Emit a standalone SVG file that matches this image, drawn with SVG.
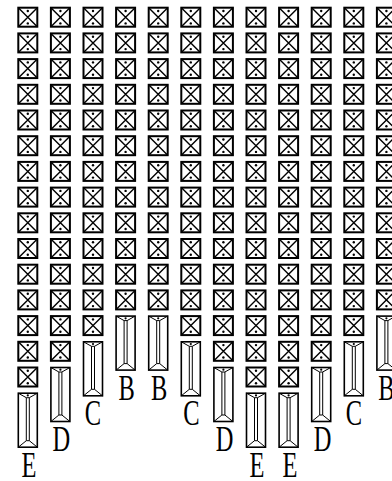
<svg xmlns="http://www.w3.org/2000/svg" xmlns:xlink="http://www.w3.org/1999/xlink" width="392" height="481" viewBox="0 0 392 481">
<style>
.o{fill:none;stroke:#000;stroke-width:2}
.d{fill:none;stroke:#000;stroke-width:1.4}
.t{fill:none;stroke:#000;stroke-width:1.6}
.i{fill:none;stroke:#000;stroke-width:1}
.dot{fill:#000}
.lbl{font-family:"Liberation Serif","Times New Roman",serif;font-size:35px;fill:#000;text-anchor:middle}
</style>
<defs>
<g id="box">
<rect class="o" x="1" y="1" width="19" height="19"/>
<path class="d" d="M1 1L20 20M20 1L1 20"/>
<circle class="dot" cx="10.5" cy="4.3" r="1.2"/>
<circle class="dot" cx="10.5" cy="16.7" r="1.2"/>
</g>
<g id="tall">
<rect class="t" x="1" y="1" width="19" height="54"/>
<path class="i" d="M1 1L9 5.5H12L20 1M9 5.5V48.5M12 5.5V48.5M1 55L9 48.5H12L20 55"/>
<circle class="dot" cx="10.5" cy="3.2" r="1.1"/>
</g>
<g id="c12">
<use xlink:href="#box" y="6.7"/>
<use xlink:href="#box" y="32.4"/>
<use xlink:href="#box" y="58.1"/>
<use xlink:href="#box" y="83.8"/>
<use xlink:href="#box" y="109.5"/>
<use xlink:href="#box" y="135.2"/>
<use xlink:href="#box" y="160.9"/>
<use xlink:href="#box" y="186.6"/>
<use xlink:href="#box" y="212.3"/>
<use xlink:href="#box" y="238"/>
<use xlink:href="#box" y="263.7"/>
<use xlink:href="#box" y="289.4"/>
</g>
</defs>
<g id="col1" transform="translate(17.3,0)">
<use xlink:href="#c12"/>
<use xlink:href="#box" y="315.1"/><use xlink:href="#box" y="340.8"/><use xlink:href="#box" y="366.5"/>
<use xlink:href="#tall" y="392.2"/>
<text class="lbl" transform="translate(11.8,476.7) scale(0.7,1)">E</text>
</g>
<g id="col2" transform="translate(49.9,0)">
<use xlink:href="#c12"/>
<use xlink:href="#box" y="315.1"/><use xlink:href="#box" y="340.8"/>
<use xlink:href="#tall" y="366.5"/>
<text class="lbl" transform="translate(11.5,451) scale(0.7,1)">D</text>
</g>
<g id="col3" transform="translate(82.5,0)">
<use xlink:href="#c12"/>
<use xlink:href="#box" y="315.1"/>
<use xlink:href="#tall" y="340.8"/>
<text class="lbl" transform="translate(10.5,425.3) scale(0.7,1)">C</text>
</g>
<g id="col4" transform="translate(115.1,0)">
<use xlink:href="#c12"/>
<use xlink:href="#tall" y="315.1"/>
<text class="lbl" transform="translate(11.5,399.6) scale(0.7,1)">B</text>
</g>
<g id="col5" transform="translate(147.7,0)">
<use xlink:href="#c12"/>
<use xlink:href="#tall" y="315.1"/>
<text class="lbl" transform="translate(11.5,399.6) scale(0.7,1)">B</text>
</g>
<g id="col6" transform="translate(180.3,0)">
<use xlink:href="#c12"/>
<use xlink:href="#box" y="315.1"/>
<use xlink:href="#tall" y="340.8"/>
<text class="lbl" transform="translate(11,425.3) scale(0.7,1)">C</text>
</g>
<g id="col7" transform="translate(212.9,0)">
<use xlink:href="#c12"/>
<use xlink:href="#box" y="315.1"/><use xlink:href="#box" y="340.8"/>
<use xlink:href="#tall" y="366.5"/>
<text class="lbl" transform="translate(11.8,451) scale(0.7,1)">D</text>
</g>
<g id="col8" transform="translate(245.5,0)">
<use xlink:href="#c12"/>
<use xlink:href="#box" y="315.1"/><use xlink:href="#box" y="340.8"/><use xlink:href="#box" y="366.5"/>
<use xlink:href="#tall" y="392.2"/>
<text class="lbl" transform="translate(11.5,476.7) scale(0.7,1)">E</text>
</g>
<g id="col9" transform="translate(278.1,0)">
<use xlink:href="#c12"/>
<use xlink:href="#box" y="315.1"/><use xlink:href="#box" y="340.8"/><use xlink:href="#box" y="366.5"/>
<use xlink:href="#tall" y="392.2"/>
<text class="lbl" transform="translate(11.8,476.7) scale(0.7,1)">E</text>
</g>
<g id="col10" transform="translate(310.7,0)">
<use xlink:href="#c12"/>
<use xlink:href="#box" y="315.1"/><use xlink:href="#box" y="340.8"/>
<use xlink:href="#tall" y="366.5"/>
<text class="lbl" transform="translate(11.8,451) scale(0.7,1)">D</text>
</g>
<g id="col11" transform="translate(343.3,0)">
<use xlink:href="#c12"/>
<use xlink:href="#box" y="315.1"/>
<use xlink:href="#tall" y="340.8"/>
<text class="lbl" transform="translate(10.5,425.3) scale(0.7,1)">C</text>
</g>
<g id="col12" transform="translate(375.9,0)">
<use xlink:href="#c12"/>
<use xlink:href="#tall" y="315.1"/>
<text class="lbl" transform="translate(10.5,399.6) scale(0.7,1)">B</text>
</g>
</svg>
